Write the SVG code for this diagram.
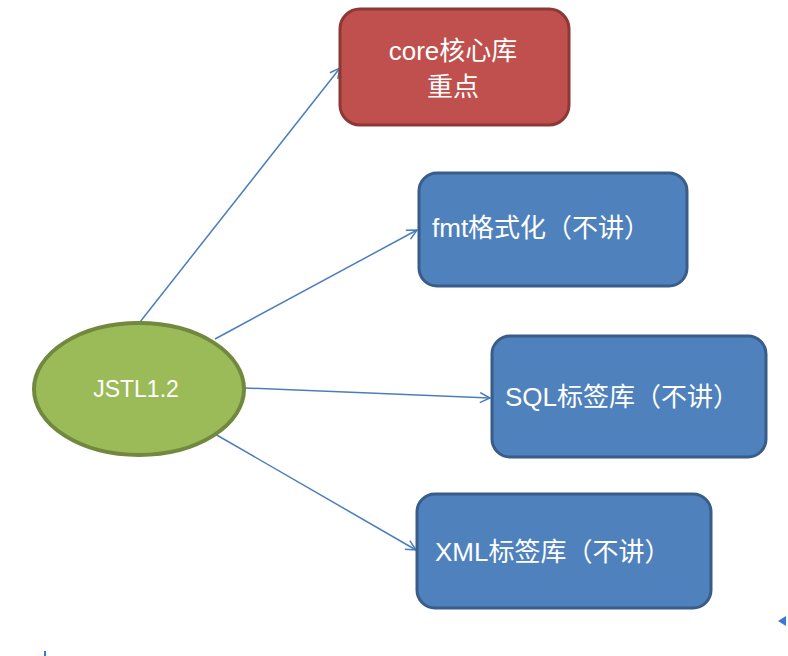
<svg xmlns="http://www.w3.org/2000/svg" width="788" height="656" viewBox="0 0 788 656">
<style>
.lbl{font-family:"Liberation Sans","Noto Sans CJK SC",sans-serif;font-size:26px;fill:#ffffff}
.red{fill:#C0504D;stroke:#8C3836;stroke-width:3}
.blue{fill:#4F81BD;stroke:#385D8A;stroke-width:3}
.green{fill:#9BBB59;stroke:#71893F;stroke-width:4}
.conn{stroke:#4A7EBB;stroke-width:1.5;fill:none;marker-end:url(#arr)}
</style>
<defs>
<marker id="arr" markerUnits="userSpaceOnUse" markerWidth="14" markerHeight="14" refX="11" refY="6" orient="auto">
<path d="M1,1 L11,6 L1,11" fill="none" stroke="#4A7EBB" stroke-width="1.5"/>
</marker>
</defs>
<rect width="788" height="656" fill="#ffffff"/>
<g id="connectors">
<line class="conn" x1="140" y1="322" x2="340" y2="68"/>
<line class="conn" x1="215" y1="339" x2="417" y2="230"/>
<line class="conn" x1="245" y1="388" x2="490" y2="398"/>
<line class="conn" x1="215" y1="434" x2="416" y2="550"/>
</g>
<g id="core">
<rect class="red" x="340" y="9" width="229" height="116" rx="20"/>
<text class="lbl" x="453" y="60" text-anchor="middle">core核心库</text>
<text class="lbl" x="453" y="96" text-anchor="middle">重点</text>
</g>
<g id="fmt">
<rect class="blue" x="419" y="173" width="268" height="113" rx="18"/>
<text class="lbl" x="432" y="237">fmt格式化（不讲）</text>
</g>
<g id="sql">
<rect class="blue" x="492" y="336" width="274" height="121" rx="18"/>
<text class="lbl" x="505" y="406">SQL标签库（不讲）</text>
</g>
<g id="xml">
<rect class="blue" x="417" y="494" width="294" height="114" rx="18"/>
<text class="lbl" x="435" y="561">XML标签库（不讲）</text>
</g>
<g id="jstl">
<ellipse class="green" cx="139" cy="389" rx="105" ry="66"/>
<text class="lbl" x="136" y="397" text-anchor="middle" style="font-size:23px">JSTL1.2</text>
</g>
<path d="M786,616 L778,621 L786,626 Z" fill="#3A78D8"/>
<rect x="44" y="651" width="2" height="5" fill="#3A78D8"/>
</svg>
